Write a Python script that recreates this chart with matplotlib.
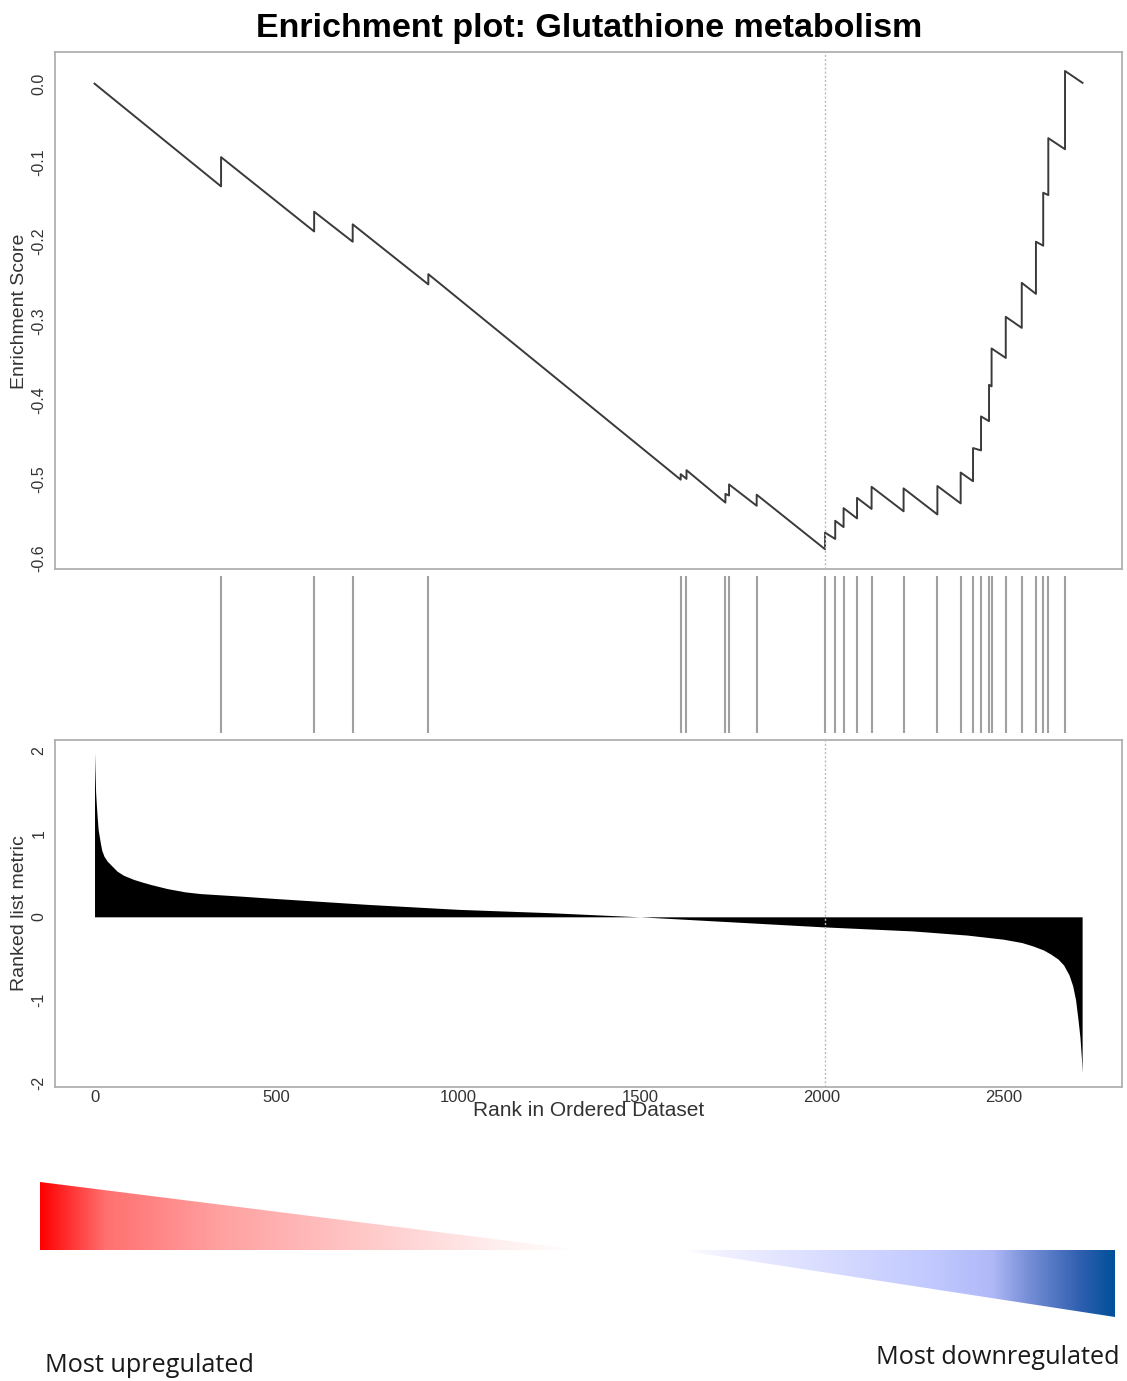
"""
GSEA enrichment plot: Glutathione metabolism.

Running enrichment score, hit positions of the gene set and the ranked
list metric, with the up/down regulation wedges underneath.
"""

import numpy as np
import matplotlib
matplotlib.use("Agg")
import matplotlib.pyplot as plt
from matplotlib.colors import LinearSegmentedColormap
from matplotlib.patches import Polygon

plt.rcParams['axes.unicode_minus'] = False
plt.rcParams['font.family'] = ['Liberation Sans', 'DejaVu Sans']

# Ranked list
n_genes = 2717
peak_rank = 2008

# Gene set hits (rank) and running ES just before / after each hit
hit_ranks = [348, 604, 710, 918, 1612, 1628, 1735, 1745, 1821, 2009, 2037,
             2060, 2097, 2137, 2225, 2318, 2382, 2416, 2438, 2460, 2467,
             2506, 2550, 2589, 2609, 2623, 2669]
es_before = [-0.130, -0.187, -0.200, -0.254, -0.501, -0.500, -0.530, -0.521,
             -0.534, -0.589, -0.576, -0.561, -0.550, -0.538, -0.541, -0.545,
             -0.531, -0.503, -0.464, -0.427, -0.383, -0.347, -0.309, -0.266,
             -0.205, -0.141, -0.083]
es_after = [-0.093, -0.162, -0.178, -0.241, -0.494, -0.489, -0.519, -0.507,
            -0.520, -0.568, -0.553, -0.537, -0.524, -0.510, -0.512, -0.509,
            -0.492, -0.461, -0.421, -0.381, -0.335, -0.295, -0.252, -0.200,
            -0.138, -0.069, 0.016]
es_start = 0.0
es_end = 0.001

# Ranked list metric along the ranking
metric_ranks = [0, 1, 3, 5, 7, 10, 16, 20, 26, 35, 44, 62, 80, 108, 130, 154,
                200, 250, 291, 400, 500, 750, 1000, 1250, 1500, 1750, 2000,
                2250, 2400, 2500, 2550, 2580, 2610, 2630, 2650, 2665, 2680,
                2690, 2698, 2705, 2710, 2714, 2716]
metric_vals = [1.98, 1.80, 1.50, 1.35, 1.22, 1.05, 0.89, 0.80, 0.73, 0.67,
               0.63, 0.55, 0.50, 0.45, 0.42, 0.39, 0.34, 0.30, 0.28, 0.25,
               0.22, 0.15, 0.09, 0.05, 0.0, -0.06, -0.12, -0.17, -0.22,
               -0.27, -0.31, -0.35, -0.40, -0.45, -0.51, -0.58, -0.70,
               -0.83, -1.00, -1.25, -1.45, -1.70, -1.88]

es_yticks = [0.0, -0.1, -0.2, -0.3, -0.4, -0.5, -0.6]
metric_yticks = [2, 1, 0, -1, -2]
rank_xticks = [0, 500, 1000, 1500, 2000, 2500]

# Colour wedge stops
red_colors = ['#ff0000', '#ff7070', '#ffa0a0', '#ffc8c8', '#fff0f0', '#ffffff']
red_pos = [0.0, 0.12, 0.33, 0.60, 0.86, 1.0]
blue_colors = ['#ffffff', '#f0f0ff', '#d8dcff', '#c0c8ff', '#b0b8f8',
               '#7890d8', '#3060b0', '#00509a']
blue_pos = [0.0, 0.10, 0.34, 0.59, 0.72, 0.80, 0.92, 1.0]

W, H = 1127, 1381
fig = plt.figure(figsize=(W / 100, H / 100), dpi=100)


def px_axes(x0, y0, x1, y1):
    """Axes from pixel box (top-left origin)."""
    return fig.add_axes([x0 / W, 1 - y1 / H, (x1 - x0) / W, (y1 - y0) / H])


frame_color = '#b0b0b0'
pad = 0.04 * n_genes
xlim = (-pad, n_genes + pad)

# ---- running enrichment score ----
ax_es = px_axes(55, 52, 1122, 569)
xs = [0]
ys = [es_start]
for r, lo, hi in zip(hit_ranks, es_before, es_after):
    xs += [r, r]
    ys += [lo, hi]
xs.append(n_genes)
ys.append(es_end)
ax_es.plot(xs, ys, color='#3a3a3a', lw=1.4)
ax_es.axvline(peak_rank, color='#b8b8b8', lw=1.0, ls=(0, (1.5, 1.5)))
ax_es.set_xlim(*xlim)
ax_es.set_ylim(-0.614, 0.04)
ax_es.set_xticks([])
ax_es.set_yticks(es_yticks)
ax_es.set_yticklabels([f"{v:.1f}" for v in es_yticks], rotation=90,
                      va='center', fontsize=11.5, color='#333333')

# ---- hit positions ----
ax_hits = px_axes(55, 569, 1122, 740)
ax_hits.vlines(hit_ranks, 0.04, 0.96, color='#a0a0a0', lw=1.5)
ax_hits.set_xlim(*xlim)
ax_hits.set_ylim(0, 1)
ax_hits.axis('off')

# ---- ranked list metric ----
ax_rk = px_axes(55, 740, 1122, 1087)
ax_rk.fill_between(metric_ranks, metric_vals, 0, color='black', lw=0)
ax_rk.axvline(peak_rank, color='#b8b8b8', lw=1.0, ls=(0, (1.5, 1.5)))
ax_rk.set_xlim(*xlim)
ax_rk.set_ylim(-2.05, 2.13)
ax_rk.set_xticks(rank_xticks)
ax_rk.set_xticklabels([str(v) for v in rank_xticks], fontsize=12,
                      color='#333333')
ax_rk.set_yticks(metric_yticks)
ax_rk.set_yticklabels([str(v) for v in metric_yticks], rotation=90,
                      va='center', fontsize=11.5, color='#333333')

for ax in (ax_es, ax_rk):
    for sp in ax.spines.values():
        sp.set_color(frame_color)
        sp.set_linewidth(1.3)
    ax.tick_params(length=0, pad=6)
ax_rk.tick_params(axis='x', pad=2)

# ---- titles and labels ----
fig.text(589 / W, 1 - 28 / H, "Enrichment plot: Glutathione metabolism",
         ha='center', va='center', fontsize=24.5, fontweight='bold')
fig.text(20 / W, 1 - 311 / H, "Enrichment Score", rotation=90,
         ha='center', va='center', fontsize=14, color='#333333')
fig.text(20 / W, 1 - 913 / H, "Ranked list metric", rotation=90,
         ha='center', va='center', fontsize=14, color='#333333')
fig.text(589 / W, 1 - 1111 / H, "Rank in Ordered Dataset",
         ha='center', va='center', fontsize=15, color='#333333')

# ---- regulation wedges ----
ax_bg = fig.add_axes([0, 0, 1, 1])
ax_bg.set_xlim(0, W)
ax_bg.set_ylim(H, 0)
ax_bg.axis('off')

red_cmap = LinearSegmentedColormap.from_list('up', list(zip(red_pos, red_colors)))
blue_cmap = LinearSegmentedColormap.from_list('down', list(zip(blue_pos, blue_colors)))
ramp = np.linspace(0, 1, 256)[None, :]

red_tri = Polygon([[40, 1182], [40, 1250], [581, 1250]], closed=True,
                  facecolor='none', edgecolor='none')
ax_bg.add_patch(red_tri)
im = ax_bg.imshow(ramp, cmap=red_cmap, aspect='auto',
                  extent=[40, 581, 1250, 1182], interpolation='bilinear')
im.set_clip_path(red_tri)

blue_tri = Polygon([[679, 1250], [1115, 1250], [1115, 1317]], closed=True,
                   facecolor='none', edgecolor='none')
ax_bg.add_patch(blue_tri)
im = ax_bg.imshow(ramp, cmap=blue_cmap, aspect='auto',
                  extent=[679, 1115, 1317, 1250], interpolation='bilinear')
im.set_clip_path(blue_tri)
ax_bg.set_xlim(0, W)
ax_bg.set_ylim(H, 0)

fig.text(45 / W, 1 - 1366 / H, "Most upregulated", ha='left', va='center',
         fontsize=18.2, family=['Open Sans', 'DejaVu Sans'], color='#1a1a1a')
fig.text(1120 / W, 1 - 1357 / H, "Most downregulated", ha='right',
         va='center', fontsize=18.2, family=['Open Sans', 'DejaVu Sans'],
         color='#1a1a1a')

fig.savefig("out.png", dpi=100)
